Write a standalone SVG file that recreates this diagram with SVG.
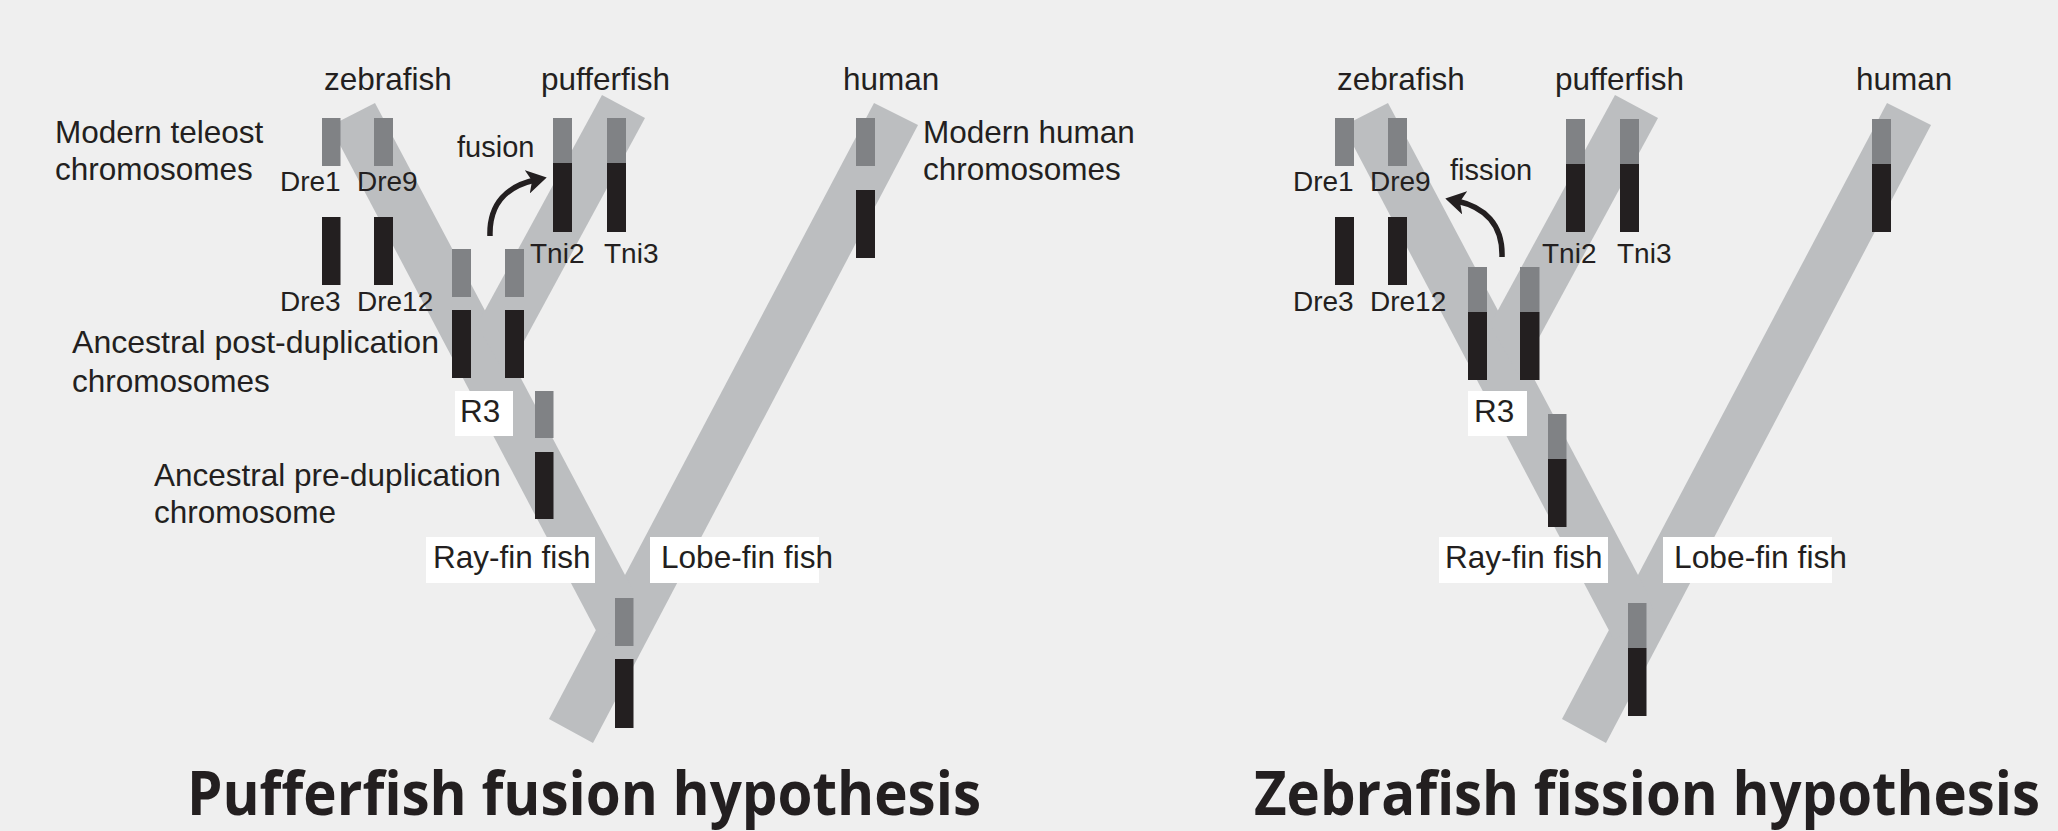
<svg xmlns="http://www.w3.org/2000/svg" width="2058" height="831" viewBox="0 0 2058 831">
<defs>
<style>
.band{fill:#bcbec0}
.cg{fill:#808285}
.ck{fill:#231f20}
.box{fill:#ffffff}
.t{font-family:"Liberation Sans",Arial,Helvetica,sans-serif;font-size:31.5px;fill:#231f20}
.s{font-family:"Liberation Sans",Arial,sans-serif;font-size:28px;fill:#231f20}
.f{font-family:"Liberation Sans",Arial,sans-serif;font-size:29px;fill:#231f20}
.title{font-family:"Open Sans","Liberation Sans",sans-serif;font-weight:700;font-size:61px;fill:#231f20}
.arr{fill:none;stroke:#231f20;stroke-width:5.5}
</style>
<marker id="ah" viewBox="0 0 20 24" refX="8" refY="12" markerWidth="20" markerHeight="24" markerUnits="userSpaceOnUse" orient="auto">
<path d="M0,0 L20,12 L0,24 L5,12 z" fill="#231f20"/>
</marker>
<g id="tree">
<polygon class="band" points="549,719 593,743 918,125 874,103"/>
<polygon class="band" points="375,103 330,126 601,640 640,610 633,590"/>
<polygon class="band" points="602,95 645,118 505.7,375 476.9,325"/>
</g>
</defs>
<rect width="2058" height="831" fill="#efefef"/>

<g id="tree-left"><use href="#tree"/></g>
<g id="tree-right"><use href="#tree" transform="translate(1013,0)"/></g>

<!-- Left panel -->
<g id="left-chromosomes">
<g id="L-Dre1"><rect class="cg" x="322" y="118" width="18.5" height="48"/></g>
<g id="L-Dre9"><rect class="cg" x="374" y="118" width="19" height="48"/></g>
<g id="L-Dre3"><rect class="ck" x="322" y="217" width="18.5" height="68"/></g>
<g id="L-Dre12"><rect class="ck" x="374" y="217" width="19" height="68"/></g>
<g id="L-Tni2"><rect class="cg" x="553" y="118" width="19" height="45"/><rect class="ck" x="553" y="163" width="19" height="69"/></g>
<g id="L-Tni3"><rect class="cg" x="607" y="118" width="19" height="45"/><rect class="ck" x="607" y="163" width="19" height="69"/></g>
<g id="L-human"><rect class="cg" x="856" y="118" width="19" height="48"/><rect class="ck" x="856" y="190" width="19" height="68"/></g>
<g id="L-post1"><rect class="cg" x="452" y="249" width="19" height="48"/><rect class="ck" x="452" y="310" width="19" height="68"/></g>
<g id="L-post2"><rect class="cg" x="505" y="249" width="19" height="48"/><rect class="ck" x="505" y="310" width="19" height="68"/></g>
<g id="L-pre"><rect class="cg" x="535" y="391" width="18.5" height="47"/><rect class="ck" x="535" y="452" width="18.5" height="67"/></g>
<g id="L-root"><rect class="cg" x="615" y="598" width="18.5" height="48"/><rect class="ck" x="615" y="659" width="18.5" height="69"/></g>
</g>

<g id="left-labels">
<text class="t" x="324" y="90">zebrafish</text>
<text class="t" x="541" y="90">pufferfish</text>
<text class="t" x="843" y="90">human</text>
<g id="L-modern-teleost"><text class="t" x="55" y="143">Modern teleost</text><text class="t" x="55" y="180">chromosomes</text></g>
<g id="L-modern-human"><text class="t" x="923" y="143">Modern human</text><text class="t" x="923" y="180">chromosomes</text></g>
<text class="s" x="280" y="191">Dre1</text>
<text class="s" x="357" y="191">Dre9</text>
<text class="s" x="280" y="311">Dre3</text>
<text class="s" x="357" y="311">Dre12</text>
<text class="s" x="530" y="263">Tni2</text>
<text class="s" x="604" y="263">Tni3</text>
<text class="f" x="457" y="157">fusion</text>
<g id="L-post-label"><text class="t" x="72" y="353" textLength="367" lengthAdjust="spacingAndGlyphs">Ancestral post-duplication</text><text class="t" x="72" y="392">chromosomes</text></g>
<g id="L-pre-label"><text class="t" x="154" y="486">Ancestral pre-duplication</text><text class="t" x="154" y="523">chromosome</text></g>
<g id="L-R3"><rect class="box" x="455" y="391" width="58" height="45"/><text class="t" x="460" y="422">R3</text></g>
<g id="L-rayfin"><rect class="box" x="426" y="537" width="169" height="46"/><text class="t" x="433" y="568">Ray-fin fish</text></g>
<g id="L-lobefin"><rect class="box" x="650" y="537" width="169" height="46"/><text class="t" x="661" y="568" textLength="172" lengthAdjust="spacingAndGlyphs">Lobe-fin fish</text></g>
<text class="title" x="187" y="815" textLength="794" lengthAdjust="spacingAndGlyphs">Pufferfish fusion hypothesis</text>
</g>

<!-- Right panel -->
<g id="right-chromosomes">
<g id="R-Dre1"><rect class="cg" x="1335" y="118" width="19" height="48"/></g>
<g id="R-Dre9"><rect class="cg" x="1388" y="118" width="19" height="48"/></g>
<g id="R-Dre3"><rect class="ck" x="1335" y="217" width="19" height="68"/></g>
<g id="R-Dre12"><rect class="ck" x="1388" y="217" width="19" height="68"/></g>
<g id="R-Tni2"><rect class="cg" x="1566" y="119" width="19" height="45"/><rect class="ck" x="1566" y="164" width="19" height="68"/></g>
<g id="R-Tni3"><rect class="cg" x="1620" y="119" width="19" height="45"/><rect class="ck" x="1620" y="164" width="19" height="68"/></g>
<g id="R-human"><rect class="cg" x="1872" y="119" width="19" height="45"/><rect class="ck" x="1872" y="164" width="19" height="68"/></g>
<g id="R-post1"><rect class="cg" x="1468" y="267" width="19" height="45"/><rect class="ck" x="1468" y="312" width="19" height="68"/></g>
<g id="R-post2"><rect class="cg" x="1520" y="267" width="19.5" height="45"/><rect class="ck" x="1520" y="312" width="19.5" height="68"/></g>
<g id="R-pre"><rect class="cg" x="1548" y="414" width="18.5" height="45"/><rect class="ck" x="1548" y="459" width="18.5" height="68"/></g>
<g id="R-root"><rect class="cg" x="1628" y="603" width="18.5" height="45"/><rect class="ck" x="1628" y="648" width="18.5" height="68"/></g>
</g>

<g id="right-labels">
<text class="t" x="1337" y="90">zebrafish</text>
<text class="t" x="1555" y="90">pufferfish</text>
<text class="t" x="1856" y="90">human</text>
<text class="s" x="1293" y="191">Dre1</text>
<text class="s" x="1370" y="191">Dre9</text>
<text class="s" x="1293" y="311">Dre3</text>
<text class="s" x="1370" y="311">Dre12</text>
<text class="s" x="1542" y="263">Tni2</text>
<text class="s" x="1617" y="263">Tni3</text>
<text class="f" x="1450" y="180">fission</text>
<g id="R-R3"><rect class="box" x="1468" y="391" width="59" height="45"/><text class="t" x="1474" y="422">R3</text></g>
<g id="R-rayfin"><rect class="box" x="1439" y="537" width="169" height="46"/><text class="t" x="1445" y="568">Ray-fin fish</text></g>
<g id="R-lobefin"><rect class="box" x="1663" y="537" width="169" height="46"/><text class="t" x="1674" y="568" textLength="173" lengthAdjust="spacingAndGlyphs">Lobe-fin fish</text></g>
<text class="title" x="1254" y="815" textLength="786" lengthAdjust="spacingAndGlyphs">Zebrafish fission hypothesis</text>
</g>

<g id="connectors">
<path class="arr" d="M490,236 C489,203 508,186 535,180" marker-end="url(#ah)"/>
<path class="arr" d="M1502,257 C1503,224 1484,207 1457,201" marker-end="url(#ah)"/>
</g>
</svg>
